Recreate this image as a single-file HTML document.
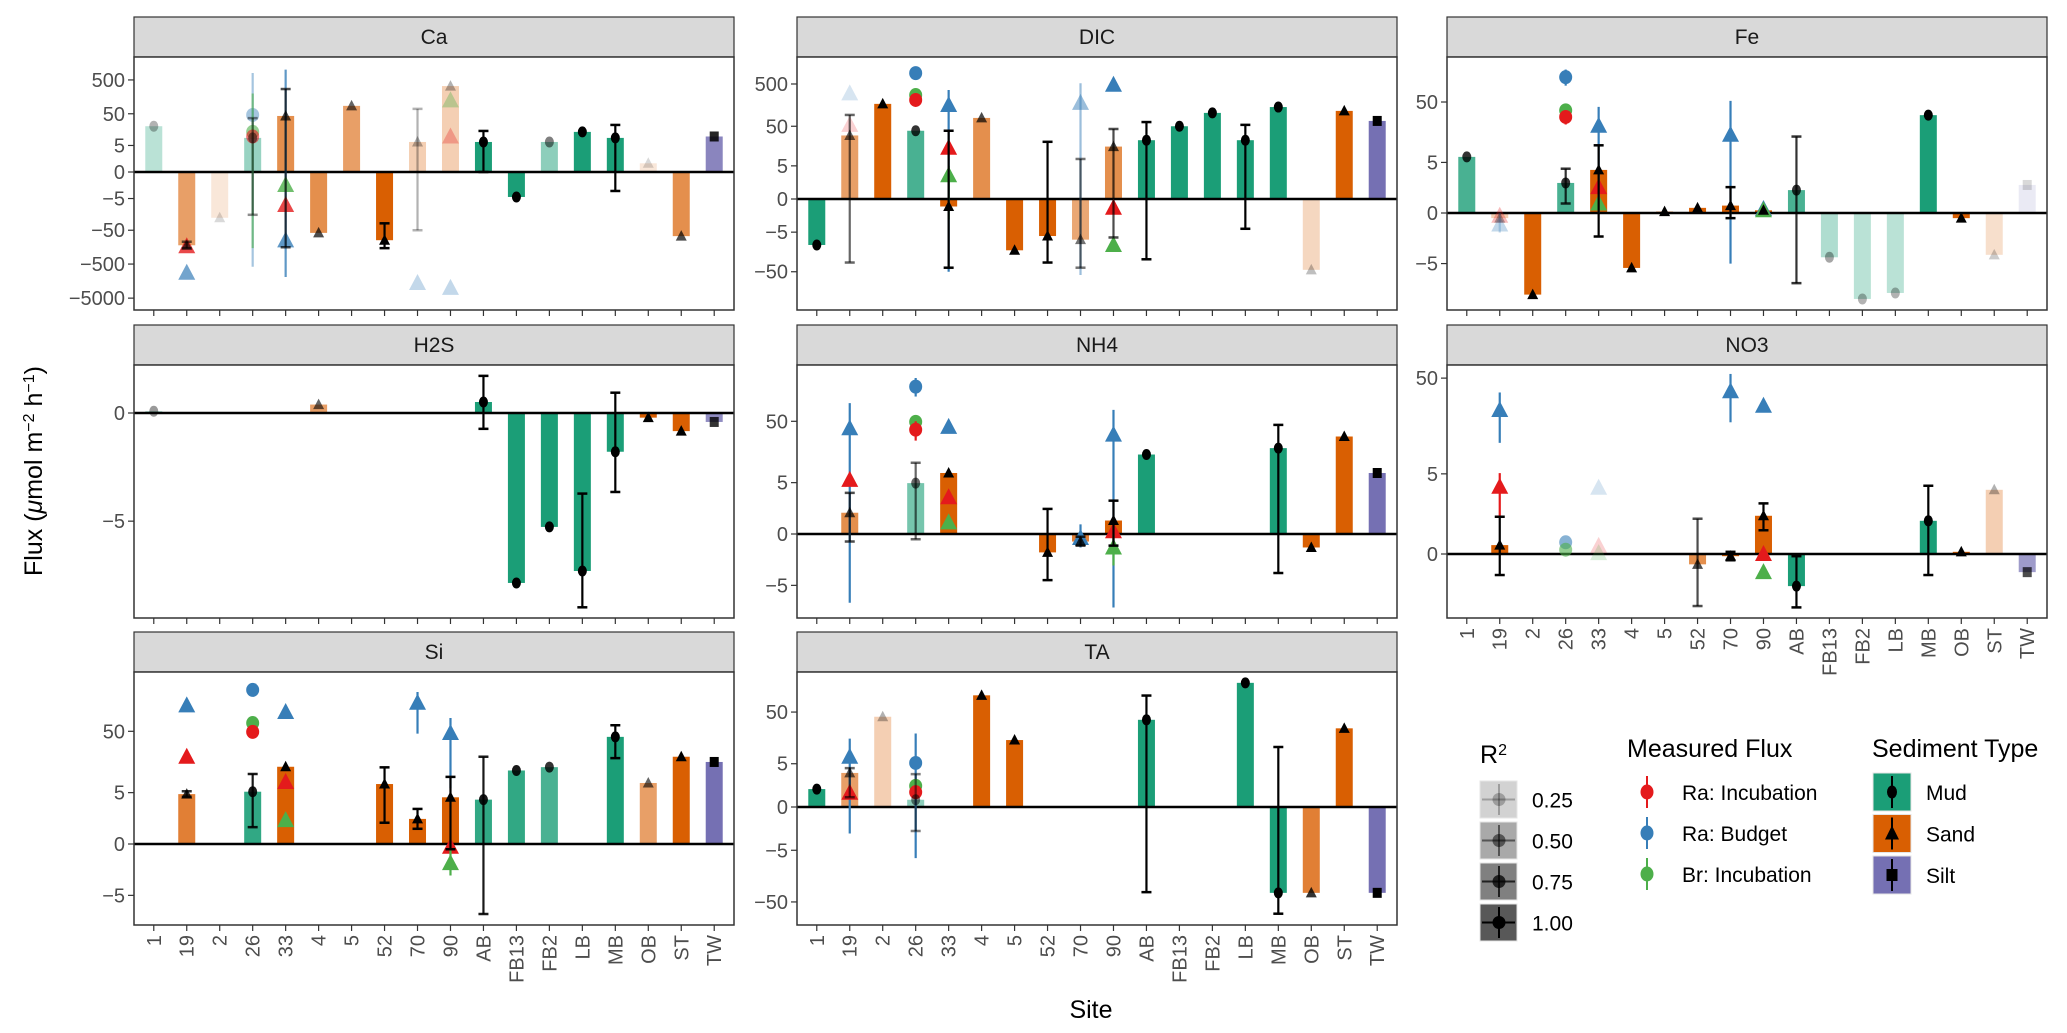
<!DOCTYPE html>
<html><head><meta charset="utf-8"><title>Flux by site</title>
<style>
html,body{margin:0;padding:0;background:#fff;}
svg{display:block;font-family:"Liberation Sans",Arial,sans-serif;}
</style></head>
<body>
<svg id="chart" width="2067" height="1033" viewBox="0 0 2067 1033" xmlns="http://www.w3.org/2000/svg">
<defs id="defs"></defs>
<text transform="translate(42,471) rotate(-90)" text-anchor="middle" font-size="25" fill="#000">Flux (<tspan font-style="italic">μ</tspan>mol m<tspan baseline-shift="super" font-size="16">−2</tspan> h<tspan baseline-shift="super" font-size="16">−1</tspan>)</text>
<text x="1091" y="1018" text-anchor="middle" font-size="25" fill="#000">Site</text>
<g id="legend"></g>
</svg>
<script>
const sites = ['1','19','2','26','33','4','5','52','70','90','AB','FB13','FB2','LB','MB','OB','ST','TW'];
const sediment = ['Mud','Sand','Sand','Mud','Sand','Sand','Sand','Sand','Sand','Sand','Mud','Mud','Mud','Mud','Mud','Sand','Sand','Silt'];
const methods = ['Ra: Incubation','Ra: Budget','Br: Incubation'];
const r2Levels = ['0.25','0.50','0.75','1.00'];
const N = null;

// Ca
const caVals  = [21,-140,-21,9,43,-60,86,-99,6.6,330,6.6,-4.4,6.6,14,9,0.8,-75,10];
const caAlpha = [0.3,0.6,0.15,0.45,0.7,0.7,0.6,1,0.3,0.3,1,1,0.5,1,1,0.15,0.7,0.85];
const caLo    = [N,-170,N,-17,-160,N,N,-170,-50,N,0,N,N,N,-2.6,N,N,N];
const caHi    = [N,-110,N,37,270,N,N,-31,70,N,15,N,N,N,23,N,N,N];
const caPts   = [[1,0,-150,N,N,0.8],[1,1,-900,N,N,0.7],[3,1,46,-600,800,0.45],[3,2,14,-170,200,0.6],[3,0,10,N,N,0.6],[4,1,-100,-1200,1000,0.8],[4,2,-1.4,N,N,0.8],[4,0,-8.3,N,N,0.8],[8,1,-1800,N,N,0.3],[9,2,125,N,N,0.35],[9,0,10,N,N,0.3],[9,1,-2500,N,N,0.3]];
const caTicks = [500,50,5,0,-5,-50,-500,-5000];

// DIC
const dicVals  = [-11,30,170,39,-0.5,79,-15,-6.4,-8,16,23,50,104,23,143,-45,116,67];
const dicAlpha = [1,0.6,1,0.8,1,0.7,1,1,0.55,0.7,1,1,1,1,1,0.25,1,1];
const dicLo    = [N,-30,N,N,-40,N,N,-30,-40,-7,-25,N,N,-4,N,N,N,N];
const dicHi    = [N,93,N,N,39,N,N,21,7.7,43,63,N,N,54,N,N,N,N];
const dicPts   = [[1,1,300,N,N,0.2],[1,0,54,N,N,0.2],[3,1,900,N,N,1],[3,2,275,N,N,1],[3,0,210,N,N,1],[4,1,160,-50,360,1],[4,0,15,N,N,1],[4,2,2.6,-2,5,1],[8,1,180,-60,520,0.5],[9,1,480,N,N,1],[9,0,-0.6,N,N,1],[9,2,-11,N,N,1]];
const dicTicks = [500,50,5,0,-5,-50];

// Fe
const feVals  = [6.3,-0.2,-17,1.9,3.6,-6,0.05,0.2,0.3,0.1,1.25,-3.8,-20,-16,31,-0.2,-3.4,1.7];
const feAlpha = [0.8,0.3,1,0.8,1,1,1,1,1,1,0.8,0.35,0.3,0.3,1,1,0.2,0.15];
const feLo    = [N,N,N,0.4,-1.3,N,N,N,-0.2,N,-11,N,N,N,N,N,N,N];
const feHi    = [N,N,N,3.8,10,N,N,N,1.5,N,14,N,N,N,N,N,N,N];
const fePts   = [[1,0,-0.1,N,N,0.3],[1,1,-0.5,-1,0,0.3],[3,1,122,90,160,1],[3,2,37,N,N,1],[3,0,29,22,36,1],[4,1,21,0,42,1],[4,0,1.5,N,N,1],[4,2,0.4,N,N,1],[8,1,15,-5,52,1],[9,1,0.15,N,N,1],[9,2,0.1,N,N,1]];
const feTicks = [50,5,0,-5];

// H2S
const h2sVals  = [0.03,N,N,N,N,0.15,N,N,N,N,0.2,-15.7,-5.6,-12.7,-0.9,-0.08,-0.35,-0.16];
const h2sAlpha = [0.4,1,1,1,1,0.6,1,1,1,1,1,1,1,1,1,1,1,0.8];
const h2sLo    = [N,N,N,N,N,N,N,N,N,N,-0.3,N,N,-24,-2.7,N,N,N];
const h2sHi    = [N,N,N,N,N,N,N,N,N,N,0.85,N,N,-2.8,0.4,N,N,N];
const h2sPts   = [];
const h2sTicks = [0,-5];

// NH4
const nh4Vals  = [N,1.1,N,4.9,7.4,N,N,-0.9,-0.3,0.6,15,N,N,N,19,-0.6,29,7.4];
const nh4Alpha = [1,0.7,1,0.6,1,1,1,1,0.8,1,1,1,1,1,1,1,1,1];
const nh4Lo    = [N,-0.3,N,-0.2,N,N,N,-4,-0.5,-0.5,N,N,N,N,-2.9,N,N,N];
const nh4Hi    = [N,3.2,N,11,N,N,N,1.4,-0.1,2.2,N,N,N,N,44,N,N,N];
const nh4Pts   = [[1,1,39,-10,95,1],[1,0,5.6,N,N,1],[3,1,170,120,230,1],[3,2,49,N,N,1],[3,0,37,25,50,1],[4,1,41,N,N,1],[4,0,2.6,N,N,1],[4,2,0.5,N,N,1],[8,1,-0.15,-0.6,0.4,1],[9,1,31,-12,75,1],[9,0,0.1,N,N,1],[9,2,-0.6,-2,0,1]];
const nh4Ticks = [50,5,0,-5];

// NO3
const no3Vals  = [N,0.22,N,N,N,N,N,-0.26,-0.05,1.35,-1.05,N,N,N,1.1,0.05,3.2,-0.5];
const no3Alpha = [1,1,1,1,1,1,1,0.7,1,1,1,1,1,1,1,1,0.3,0.7];
const no3Lo    = [N,-0.6,N,N,N,N,N,-2.2,-0.15,0.7,-2.3,N,N,N,-0.6,N,N,N];
const no3Hi    = [N,1.3,N,N,N,N,N,1.2,0.05,2.1,-0.05,N,N,N,3.6,N,N,N];
const no3Pts   = [[1,1,24,11,36,1],[1,0,3.5,1.3,5.1,1],[3,1,0.3,N,N,0.6],[3,2,0.1,N,N,0.6],[4,1,3.4,N,N,0.2],[4,0,0.2,N,N,0.2],[4,2,0.02,N,N,0.2],[8,1,37,18,55,1],[9,1,26.5,N,N,1],[9,0,0.0,N,N,1],[9,2,-0.5,N,N,1]];
const no3Ticks = [50,5,0];

// Si
const siVals  = [N,4.7,N,5.2,13.8,N,N,7.1,1.4,4.1,3.7,12,13.6,N,41,7.4,20,16.5];
const siAlpha = [1,0.8,1,0.9,1,1,1,1,1,1,0.9,0.9,0.8,1,1,0.6,1,1];
const siLo    = [N,4.2,N,0.8,N,N,N,1.1,0.7,-0.2,-10.5,N,N,N,19,N,N,N];
const siHi    = [N,5.3,N,10.5,N,N,N,13.5,2.4,9.4,20,N,N,N,62,N,N,N];
const siPts   = [[1,1,125,N,N,1],[1,0,20,N,N,1],[3,1,215,180,260,1],[3,2,67,N,N,1],[3,0,49,N,N,1],[4,1,99,N,N,1],[4,0,7.7,N,N,1],[4,2,1.3,N,N,1],[8,1,137,46,200,1],[9,1,47,6,80,1],[9,0,-0.1,N,N,1],[9,2,-0.95,-2,0,1]];
const siTicks = [50,5,0,-5];

// TA
const taVals  = [1.1,3.1,41,0.35,N,101,15,N,N,N,36,N,N,170,-34,-34,25,-34];
const taAlpha = [1,0.6,0.3,0.5,1,1,1,1,1,1,1,1,1,1,1,0.8,1,1];
const taLo    = [N,0.5,N,-1.7,N,N,N,N,N,N,-33,N,N,N,-82,N,N,N];
const taHi    = [N,4,N,2.9,N,N,N,N,N,N,100,N,N,N,11,N,N,N];
const taPts   = [[1,1,7,-2,16,1],[1,0,0.8,N,N,1],[3,1,5.2,-7.3,20,1],[3,2,1.4,N,N,1],[3,0,0.85,N,N,1]];
const taTicks = [50,5,0,-5,-50];

const SED_COL = {Mud:'#1b9e77',Sand:'#d95f02',Silt:'#7570b3'};
const MCOL = ['#e41a1c','#377eb8','#4daf4a'];
const NS = 'http://www.w3.org/2000/svg';
const svg = document.getElementById('chart');
const defs = document.getElementById('defs');

function mk(tag, attrs, parent){
  const e = document.createElementNS(NS, tag);
  for (const k in attrs) e.setAttribute(k, attrs[k]);
  (parent||svg).appendChild(e);
  return e;
}
function T(v){ return Math.sign(v)*Math.log10(1+Math.abs(v)); }

const PW = 600, PH = 253, STEP = PW/18.2;

function panel(name, x0, stripTop, zero, ppu, vals, alpha, lo, hi, pts, ticks, xlabels){
  const top = stripTop + 40, bottom = top + PH;
  const g = mk('g', {});
  
  
  const strip = mk('rect', {x:x0, y:stripTop, width:PW, height:40, fill:'#d9d9d9', stroke:'#333', 'stroke-width':1.2}, g);
  
  
  const st = mk('text', {x:x0+PW/2, y:stripTop+27, 'text-anchor':'middle', 'font-size':21, fill:'#1a1a1a'}, g);
  st.textContent = name;
  
  
  const frame = mk('rect', {x:x0, y:top, width:PW, height:PH, fill:'#fff', stroke:'none'}, g);
  
  
  const cid = 'clip-' + name;
  const cp = mk('clipPath', {id:cid}, defs);
  mk('rect', {x:x0, y:top, width:PW, height:PH}, cp);
  const Y = v => zero - ppu*T(v);
  const X = k => x0 + STEP*0.6 + STEP*k;
  // y ticks
  ticks.forEach(t => {
    const y = Y(t);
    const tl = mk('line', {x1:x0-6, x2:x0, y1:y, y2:y, stroke:'#333', 'stroke-width':1.2}, g);
    
    
    const tx = mk('text', {x:x0-9, y:y+7, 'text-anchor':'end', 'font-size':20, fill:'#4d4d4d'}, g);
    tx.textContent = t < 0 ? '\u2212' + Math.abs(t) : String(t);
    
    
  });
  // x ticks
  sites.forEach((s,k) => {
    const x = X(k);
    const xt = mk('line', {x1:x, x2:x, y1:bottom, y2:bottom+6, stroke:'#333', 'stroke-width':1.2}, g);
    
    
    if (xlabels){
      const lt = mk('text', {x:0, y:0, transform:'translate(' + (x+7) + ',' + (bottom+10) + ') rotate(-90)', 'text-anchor':'end', 'font-size':20, fill:'#4d4d4d'}, g);
      lt.textContent = s;
      
      
    }
  });
  const mg = mk('g', {'clip-path':'url(#' + cid + ')'}, g);
  const bw = 17;
  // bars
  vals.forEach((v,k) => {
    if (v === null) return;
    const y0 = Y(0), y1 = Y(v);
    const b = mk('rect', {x:X(k)-bw/2, y:Math.min(y0,y1), width:bw, height:Math.max(1,Math.abs(y1-y0)), fill:SED_COL[sediment[k]], 'fill-opacity':alpha[k]}, mg);
    
    
  });
  // zero line
  const zl = mk('line', {x1:x0, x2:x0+PW, y1:Y(0), y2:Y(0), stroke:'#000', 'stroke-width':2.5}, mg);
  
  
  // colored method points
  pts.forEach(p => {
    const [k, m, v, l, h, a] = p;
    const x = X(k), c = MCOL[m];
    if (l !== null){
      const el = mk('line', {x1:x, x2:x, y1:Y(h), y2:Y(l), stroke:c, 'stroke-width':2.2, 'stroke-opacity':a}, mg);
      
      
    }
    const y = Y(v);
    let mkEl;
    if (sediment[k] === 'Mud') mkEl = mk('ellipse', {cx:x, cy:y, rx:6.5, ry:7, fill:c, 'fill-opacity':a}, mg);
    else mkEl = mk('polygon', {points:(x-8.5)+','+(y+7)+' '+(x+8.5)+','+(y+7)+' '+x+','+(y-9), fill:c, 'fill-opacity':a}, mg);
    
    
  });
  // black mean points with error bars
  vals.forEach((v,k) => {
    if (v === null) return;
    const x = X(k), a = alpha[k];
    if (lo[k] !== null){
      const e1 = mk('line', {x1:x, x2:x, y1:Y(hi[k]), y2:Y(lo[k]), stroke:'#000', 'stroke-width':2.2, 'stroke-opacity':a}, mg);
      
      
      [hi[k], lo[k]].forEach(cv => {
        const cap = mk('line', {x1:x-5, x2:x+5, y1:Y(cv), y2:Y(cv), stroke:'#000', 'stroke-width':2.5, 'stroke-opacity':a}, mg);
        
        
      });
    }
    const y = Y(v);
    let pe;
    if (sediment[k] === 'Mud') pe = mk('ellipse', {cx:x, cy:y, rx:4.5, ry:5.5, fill:'#000', 'fill-opacity':a}, mg);
    else if (sediment[k] === 'Sand') pe = mk('polygon', {points:(x-5.5)+','+(y+4.5)+' '+(x+5.5)+','+(y+4.5)+' '+x+','+(y-6), fill:'#000', 'fill-opacity':a}, mg);
    else pe = mk('rect', {x:x-4.5, y:y-5, width:9, height:10, fill:'#000', 'fill-opacity':a}, mg);
    
    
  });
  const border = mk('rect', {x:x0, y:top, width:PW, height:PH, fill:'none', stroke:'#333', 'stroke-width':1.5}, g);
  
  
}

panel('Ca', 134, 17, 172, 34.1, caVals, caAlpha, caLo, caHi, caPts, caTicks, false);
panel('DIC', 797, 17, 199, 42.6, dicVals, dicAlpha, dicLo, dicHi, dicPts, dicTicks, false);
panel('Fe', 1447, 17, 213, 65, feVals, feAlpha, feLo, feHi, fePts, feTicks, false);
panel('H2S', 134, 325, 413, 139, h2sVals, h2sAlpha, h2sLo, h2sHi, h2sPts, h2sTicks, false);
panel('NH4', 797, 325, 534, 66, nh4Vals, nh4Alpha, nh4Lo, nh4Hi, nh4Pts, nh4Ticks, false);
panel('NO3', 1447, 325, 554, 103, no3Vals, no3Alpha, no3Lo, no3Hi, no3Pts, no3Ticks, true);
panel('Si', 134, 632, 844, 66, siVals, siAlpha, siLo, siHi, siPts, siTicks, true);
panel('TA', 797, 632, 807, 55.6, taVals, taAlpha, taLo, taHi, taPts, taTicks, true);

// Legend
const lg = document.getElementById('legend');
const r2t = mk('text', {x:1480, y:763, 'font-size':25, fill:'#000'}, lg);
r2t.innerHTML = 'R<tspan baseline-shift="super" font-size="16">2</tspan>';


const r2fill = ['#d2d2d2','#a9a9a9','#808080','#585858'];
r2Levels.forEach((lab,i) => {
  const top = 781 + i*41, cx = 1499, cy = top + 18.5, a = 0.25*(i+1);
  const kg = mk('g', {}, lg);
  
  
  mk('rect', {x:1480, y:top, width:37, height:37, fill:r2fill[i], stroke:'#e5e5e5'}, kg);
  mk('line', {x1:cx, x2:cx, y1:top+3, y2:top+34, stroke:'#000', 'stroke-width':2, 'stroke-opacity':a}, kg);
  mk('line', {x1:1482, x2:1515, y1:cy, y2:cy, stroke:'#000', 'stroke-width':2, 'stroke-opacity':a}, kg);
  mk('circle', {cx:cx, cy:cy, r:6.5, fill:'#000', 'fill-opacity':a}, kg);
  const t = mk('text', {x:1532, y:cy+8, 'font-size':21, fill:'#000'}, kg);
  t.textContent = lab;
});
const mft = mk('text', {x:1627, y:757, 'font-size':25, fill:'#000'}, lg);
mft.textContent = 'Measured Flux';


methods.forEach((lab,i) => {
  const cy = 792 + i*41;
  const kg = mk('g', {}, lg);
  
  
  mk('line', {x1:1647, x2:1647, y1:cy-16, y2:cy+16, stroke:MCOL[i], 'stroke-width':2}, kg);
  mk('ellipse', {cx:1647, cy:cy, rx:6.5, ry:7.5, fill:MCOL[i]}, kg);
  const t = mk('text', {x:1682, y:cy+8, 'font-size':21, fill:'#000'}, kg);
  t.textContent = lab;
});
const sdt = mk('text', {x:1872, y:757, 'font-size':25, fill:'#000'}, lg);
sdt.textContent = 'Sediment Type';


['Mud','Sand','Silt'].forEach((lab,i) => {
  const top = 773 + i*41.5, cx = 1892, cy = top + 19;
  const kg = mk('g', {}, lg);
  
  
  mk('rect', {x:1873, y:top, width:38, height:38, fill:SED_COL[lab], stroke:'#e5e5e5'}, kg);
  mk('line', {x1:cx, x2:cx, y1:top+3, y2:top+35, stroke:'#000', 'stroke-width':2}, kg);
  if (lab === 'Mud') mk('ellipse', {cx:cx, cy:cy, rx:5, ry:6.5, fill:'#000'}, kg);
  else if (lab === 'Sand') mk('polygon', {points:(cx-7)+','+(cy+6)+' '+(cx+7)+','+(cy+6)+' '+cx+','+(cy-8), fill:'#000'}, kg);
  else mk('rect', {x:cx-5.5, y:cy-6, width:11, height:12, fill:'#000'}, kg);
  const t = mk('text', {x:1926, y:cy+8, 'font-size':21, fill:'#000'}, kg);
  t.textContent = lab;
});
</script>
</body></html>
